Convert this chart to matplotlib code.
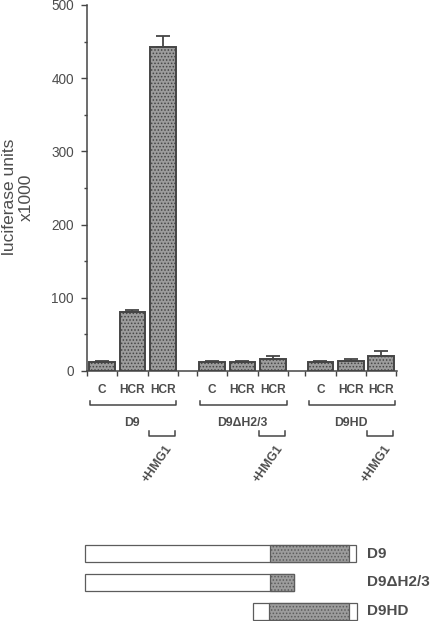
import numpy as np
import matplotlib
matplotlib.use('Agg')
import matplotlib.pyplot as plt
import matplotlib.transforms as mtransforms

plt.rcParams['font.family'] = ['Liberation Sans', 'DejaVu Sans']
plt.rcParams['hatch.linewidth'] = 0.7

# luciferase data (x1000)
groups = ['D9', 'D9\u0394H2/3', 'D9HD']
conditions = ['C', 'HCR', 'HCR']
with_hmg1 = [False, False, True]
values = [[12, 80, 443], [12, 12, 17], [12, 14, 21]]
errors = [[2, 3, 14], [2, 2, 3], [2, 2, 7]]
yticks = [0, 100, 200, 300, 400, 500]

# construct maps (relative length units)
constructs = ['D9', 'D9\u0394H2/3', 'D9HD']
full_start = [0, 0, 62]
full_end = [100, 77, 100.4]
hd_start = [68.3, 68.3, 67.8]
hd_end = [97.5, 77, 97.5]

W, H = 435, 621
text_col = '#4d4d4d'
line_col = '#454545'
fill_col = '#9c9c9c'

def fy(px):
    return 1 - px / H

fig = plt.figure(figsize=(W / 100, H / 100), dpi=100)
ax = fig.add_axes([86.7 / W, fy(371), 310.3 / W, 366 / H])
trans = mtransforms.blended_transform_factory(ax.transData, fig.transFigure)

group_start = [0, 3.62, 7.18]
for g, s in enumerate(group_start):
    x = s + 0.5 + np.arange(len(conditions))
    ax.bar(x, values[g], width=0.84, facecolor=fill_col, edgecolor=line_col,
           linewidth=1.4, hatch='.....', zorder=2)
    ax.errorbar(x, values[g], yerr=[np.zeros(len(x)), errors[g]], fmt='none',
                ecolor=line_col, elinewidth=1.3, capsize=5, capthick=1.3, zorder=3)

    for i, c in enumerate(conditions):
        ax.text(x[i], fy(390), c, transform=trans, ha='center', va='center',
                fontsize=8.6, fontweight='bold', color=text_col)

    # group bracket
    ax.plot([s + 0.12, s + 0.12, s + 2.95, s + 2.95], [fy(401), fy(405), fy(405), fy(401)],
            transform=trans, clip_on=False, color=line_col, lw=1.1)
    ax.text(s + 1.5, fy(422.7), groups[g], transform=trans, ha='center', va='center',
            fontsize=8.8, fontweight='bold', color=text_col)

    for i, h in enumerate(with_hmg1):
        if h:
            ax.plot([s + i + 0.05, s + i + 0.05, s + i + 0.9, s + i + 0.9],
                    [fy(431), fy(435.5), fy(435.5), fy(431)],
                    transform=trans, clip_on=False, color=line_col, lw=1.1)
            ax.text(s + i + 0.74, fy(446), '+HMG1', transform=trans, rotation=55,
                    rotation_mode='anchor', ha='right', va='center',
                    fontsize=8.8, fontweight='bold', color=text_col)

ax.set_xlim(0, 10.2)
ax.set_ylim(0, 500)
ticks_x = [s + k for s in group_start for k in range(4)]
ax.set_xticks(ticks_x)
ax.set_xticklabels([])
ax.set_yticks(yticks)
ax.set_yticks(np.arange(50, 500, 100), minor=True)
ax.tick_params(axis='x', direction='out', length=3.6, width=1, color=line_col)
ax.tick_params(axis='y', which='major', direction='out', length=4.3, width=1,
               color=line_col, labelsize=9.8, labelcolor=text_col, pad=5)
ax.tick_params(axis='y', which='minor', direction='out', length=2.2, width=1, color=line_col)
for side in ['top', 'right']:
    ax.spines[side].set_visible(False)
for side in ['left', 'bottom']:
    ax.spines[side].set_color(line_col)
    ax.spines[side].set_linewidth(1.1)

fig.text(18 / W, fy(197), 'luciferase units\nx1000', rotation=90, ha='center',
         va='center', multialignment='center', fontsize=12.5, color=text_col,
         linespacing=1.15)

# construct diagram
ax2 = fig.add_axes([85 / W, fy(620.8), 271 / W, (620.8 - 540.6) / H])
ax2.set_xlim(0, 100)
ax2.set_ylim(2.33, -0.45)
ax2.axis('off')
for i, name in enumerate(constructs):
    ax2.barh(i, full_end[i] - full_start[i], left=full_start[i], height=0.59,
             facecolor='white', edgecolor='#5c5c5c', linewidth=0.9, clip_on=False)
    ax2.barh(i, hd_end[i] - hd_start[i], left=hd_start[i], height=0.59,
             facecolor=fill_col, edgecolor='#5c5c5c', linewidth=0.9, hatch='.....',
             clip_on=False)
    ax2.text(104, i, name, ha='left', va='center', fontsize=11,
             fontweight='bold', color=text_col, clip_on=False)

fig.savefig('out.png', dpi=100)
plt.close(fig)
